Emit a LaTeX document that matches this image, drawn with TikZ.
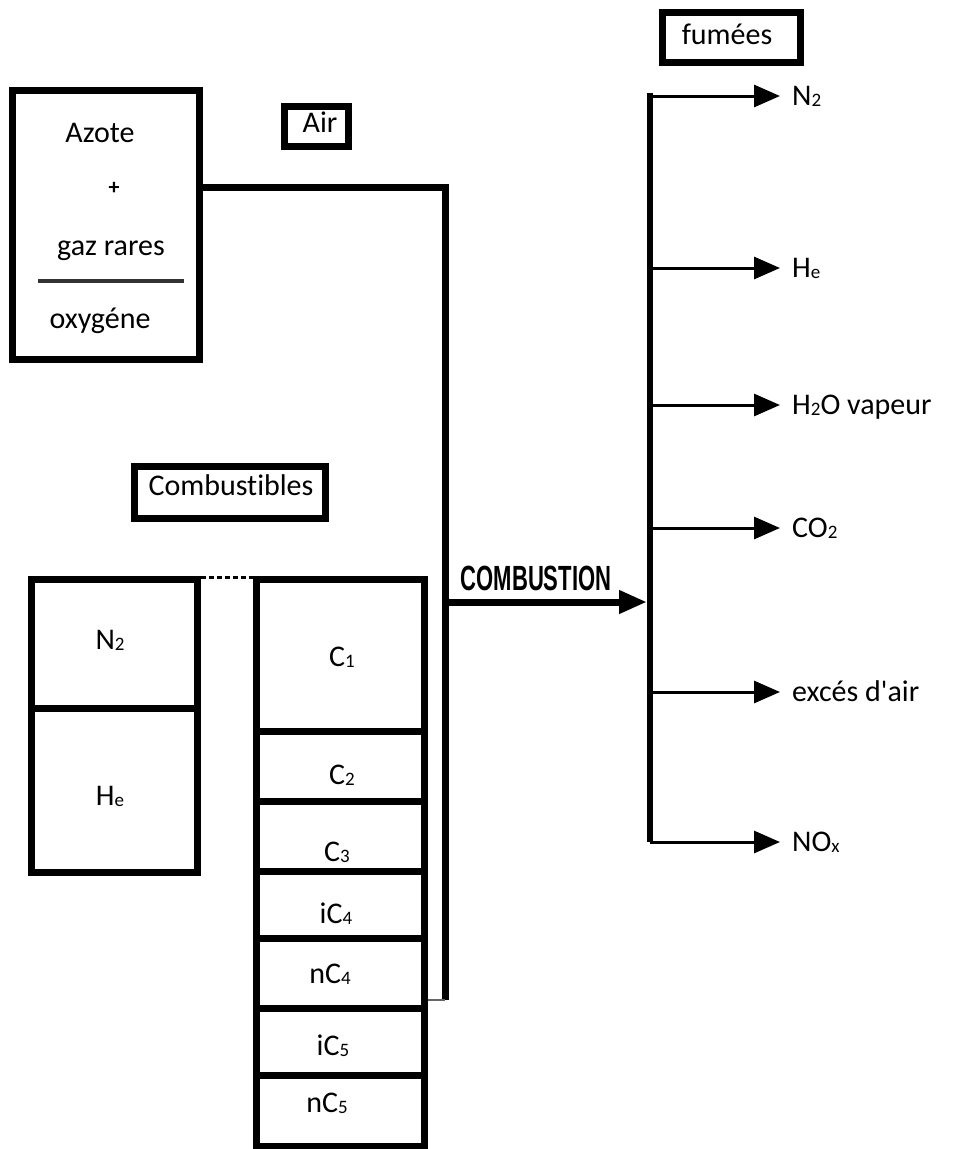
\documentclass[tikz,border=0pt]{standalone}
\usepackage{fontspec}
\setmainfont{Carlito}[Ligatures={NoCommon}]
\newfontfamily\combfont{Liberation Sans}
\usetikzlibrary{arrows.meta}
\newcommand{\sbs}[1]{\raisebox{-1pt}{\fontsize{19}{19}\selectfont #1}}
\begin{document}
\begin{tikzpicture}[x=1pt,y=-1pt,
  box/.style={draw, line width=7pt, inner sep=0pt, rectangle},
  txt/.style={inner sep=0pt, font=\fontsize{30}{36}\selectfont, text height=19.5pt, text depth=0pt},
  cellbox/.style={draw, line width=7pt, inner sep=0pt, minimum width=168pt},
  leftcell/.style={draw, line width=7pt, inner sep=0pt, minimum width=166pt},
  flow/.style={line width=7pt},
  outarrow/.style={line width=3pt, -{Triangle[length=26pt,width=22pt]}},
  outlbl/.style={txt, anchor=west, inner xsep=14pt},
]
\useasboundingbox (0,0) rectangle (955,1149);

% Air box
\node[box, minimum width=186.5pt, minimum height=269pt] (airbox) at (105.75,224.5) {};
\node[txt] (azote) at (100,133) {Azote};
\node[inner sep=0pt, font=\fontsize{22}{22}\selectfont\bfseries] (plus) at (114,188) {+};
\node[txt] (gaz) at (111,246) {gaz rares};
\draw[line width=4pt, black!80] (38,281) -- (184,281);
\node[txt] (oxy) at (100,319) {oxygéne};

% Air label
\node[box, minimum width=64pt, minimum height=40pt] (airlbl) at (316,126) {};
\node[txt] (airtxt) at (320,123) {Air};

% fumees label
\node[box, minimum width=138pt, minimum height=50pt] (fumlbl) at (731,37) {};
\node[txt] (fumtxt) at (727,35) {fumées};

% Combustibles label
\node[box, minimum width=191pt, minimum height=52pt] (comblbl) at (230,492.5) {};
\node[txt] (combtxt) at (231,486) {Combustibles};

% left box N2 / He
\node[leftcell, minimum height=129pt] (n2cell) at (114,643.5) {};
\node[leftcell, minimum height=164pt] (hecell) at (114,790) {};
\node[txt] (n2t) at (110,640) {N\sbs{2}};
\node[txt] (het) at (110,796) {H\sbs{e}};

% column
\node[cellbox, minimum height=152pt] (c1) at (340,655) {};
\node[cellbox, minimum height=70pt] (c2) at (340,766) {};
\node[cellbox, minimum height=70pt] (c3) at (340,836) {};
\node[cellbox, minimum height=67pt] (ic4) at (340,904.5) {};
\node[cellbox, minimum height=70pt] (nc4) at (340,973) {};
\node[cellbox, minimum height=67pt] (ic5) at (340,1041.5) {};
\node[cellbox, minimum height=71pt] (nc5) at (340,1110.5) {};
\node[txt] (c1t) at (342,657) {C\sbs{1}};
\node[txt] (c2t) at (342,775) {C\sbs{2}};
\node[txt] (c3t) at (337,852) {C\sbs{3}};
\node[txt] (ic4t) at (336,914) {iC\sbs{4}};
\node[txt] (nc4t) at (330,974) {nC\sbs{4}};
\node[txt] (ic5t) at (333,1046) {iC\sbs{5}};
\node[txt] (nc5t) at (327,1103) {nC\sbs{5}};

% dashed link
\draw[line width=3pt, dash pattern=on 5pt off 3pt] ([yshift=-2pt]n2cell.north east) -- ([yshift=-2pt]c1.north west);

% air line
\coordinate (airturn) at (445,187);
\coordinate (airbot) at (445,1000);
\draw[flow] (airturn -| airbox.east) -- (airturn) -- (airbot);
\draw[line width=2pt, black!60] (airbot) -- (airbot -| nc4.east);

% combustion arrow
\coordinate (combstart) at (445,602);
\coordinate (ftop) at (650,93);
\coordinate (fbot) at (650,842);
\draw[line width=6pt] (ftop) -- (fbot);
\draw[flow, -{Triangle[length=28pt,width=22pt]}] (combstart) -- (647,602);
\node[inner sep=0pt, font=\combfont\bfseries\fontsize{35}{35}\selectfont, text height=25pt, text depth=0pt, xscale=0.63] (combust) at (536,578) {COMBUSTION};

% outputs
\node[outlbl] (on2) at (778,96) {N\sbs{2}};
\node[outlbl] (ohe) at (778,268) {H\sbs{e}};
\node[outlbl] (oh2o) at (778,405) {H\sbs{2}O vapeur};
\node[outlbl] (oco2) at (778,528) {CO\sbs{2}};
\node[outlbl] (oexc) at (778,692) {excés d\textquotesingle air};
\node[outlbl] (onox) at (778,842) {NO\sbs{x}};
\foreach \n/\y in {on2/96, ohe/268, oh2o/405, oco2/528, oexc/692, onox/842}{
  \draw[outarrow] (650,\y) -- ([xshift=2pt]\n.west);
}
\end{tikzpicture}
\end{document}
